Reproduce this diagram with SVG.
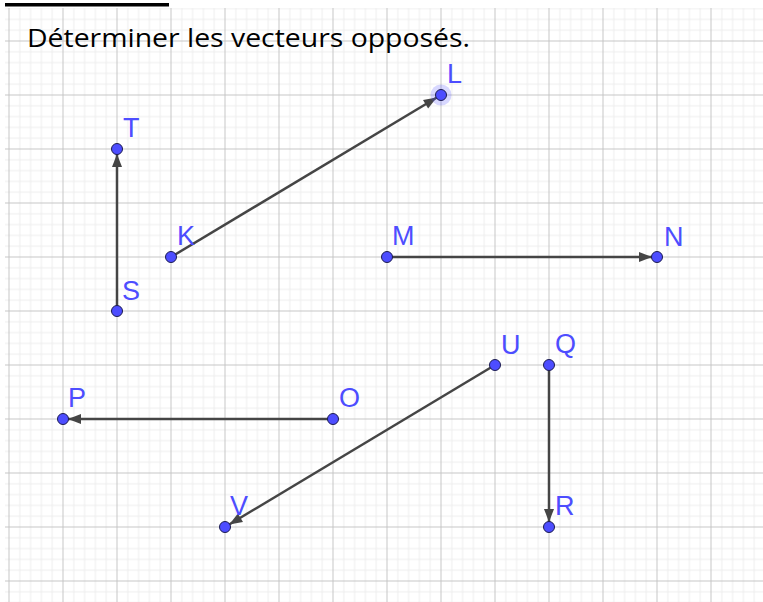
<svg xmlns="http://www.w3.org/2000/svg" width="763" height="602" viewBox="0 0 763 602">
<style>
.lbl{font-family:"Liberation Sans",Arial,sans-serif;font-size:27px;fill:#4d4dff}
.vec{stroke:#454545;stroke-width:2.5;fill:none;marker-end:url(#arr)}
.pt{fill:#4d4dff;stroke:#1c1c50;stroke-width:1}
.title{font-family:"Open Sans","Liberation Sans",Arial,sans-serif;font-size:25px;fill:#000}
</style>
<defs>
<pattern id="grid" patternUnits="userSpaceOnUse" x="8.5" y="40.5" width="54" height="54">
<path d="M11.3,0V54M22.1,0V54M32.9,0V54M43.7,0V54M0,11.3H54M0,22.1H54M0,32.9H54M0,43.7H54" stroke="#ededed" stroke-width="1" fill="none"/>
<path d="M0.5,0V54M0,0.5H54" stroke="#c6c6c6" stroke-width="1" fill="none"/>
</pattern>
<marker id="arr" markerUnits="userSpaceOnUse" markerWidth="22" markerHeight="14" viewBox="-22 -7 22 14" refX="0" refY="0" orient="auto">
<path d="M-5,0 L-18,-5 L-18,5 Z" fill="#454545"/>
</marker>
</defs>
<rect x="0" y="0" width="763" height="602" fill="#fff"/>
<rect x="5" y="8" width="758" height="594" fill="url(#grid)"/>
<rect x="5" y="3" width="164" height="3.5" fill="#000"/>
<text class="title" x="27" y="47" textLength="443" lengthAdjust="spacingAndGlyphs">Déterminer les vecteurs opposés.</text>
<g id="connectors">
<line class="vec" x1="117" y1="311" x2="117" y2="149"/>
<line class="vec" x1="171" y1="257" x2="441" y2="95"/>
<line class="vec" x1="387" y1="257" x2="657" y2="257"/>
<line class="vec" x1="333" y1="419" x2="63" y2="419"/>
<line class="vec" x1="495" y1="365" x2="225" y2="527"/>
<line class="vec" x1="549" y1="365" x2="549" y2="527"/>
</g>
<g id="node-L"><circle cx="441" cy="95" r="10.5" fill="#4d4dff" fill-opacity="0.22"/><circle class="pt" cx="441" cy="95" r="5.5"/><text class="lbl" x="447" y="83">L</text></g>
<g id="node-T"><circle class="pt" cx="117" cy="149" r="5.5"/><text class="lbl" x="123" y="137">T</text></g>
<g id="node-S"><circle class="pt" cx="117" cy="311" r="5.5"/><text class="lbl" x="122" y="300">S</text></g>
<g id="node-K"><circle class="pt" cx="171" cy="257" r="5.5"/><text class="lbl" x="177" y="245">K</text></g>
<g id="node-M"><circle class="pt" cx="387" cy="257" r="5.5"/><text class="lbl" x="392" y="245">M</text></g>
<g id="node-N"><circle class="pt" cx="657" cy="257" r="5.5"/><text class="lbl" x="664" y="246">N</text></g>
<g id="node-U"><circle class="pt" cx="495" cy="365" r="5.5"/><text class="lbl" x="501" y="354">U</text></g>
<g id="node-Q"><circle class="pt" cx="549" cy="365" r="5.5"/><text class="lbl" x="555" y="353">Q</text></g>
<g id="node-P"><circle class="pt" cx="63" cy="419" r="5.5"/><text class="lbl" x="68" y="407">P</text></g>
<g id="node-O"><circle class="pt" cx="333" cy="419" r="5.5"/><text class="lbl" x="339" y="407">O</text></g>
<g id="node-V"><circle class="pt" cx="225" cy="527" r="5.5"/><text class="lbl" x="230" y="515">V</text></g>
<g id="node-R"><circle class="pt" cx="549" cy="527" r="5.5"/><text class="lbl" x="555" y="515">R</text></g>
</svg>
